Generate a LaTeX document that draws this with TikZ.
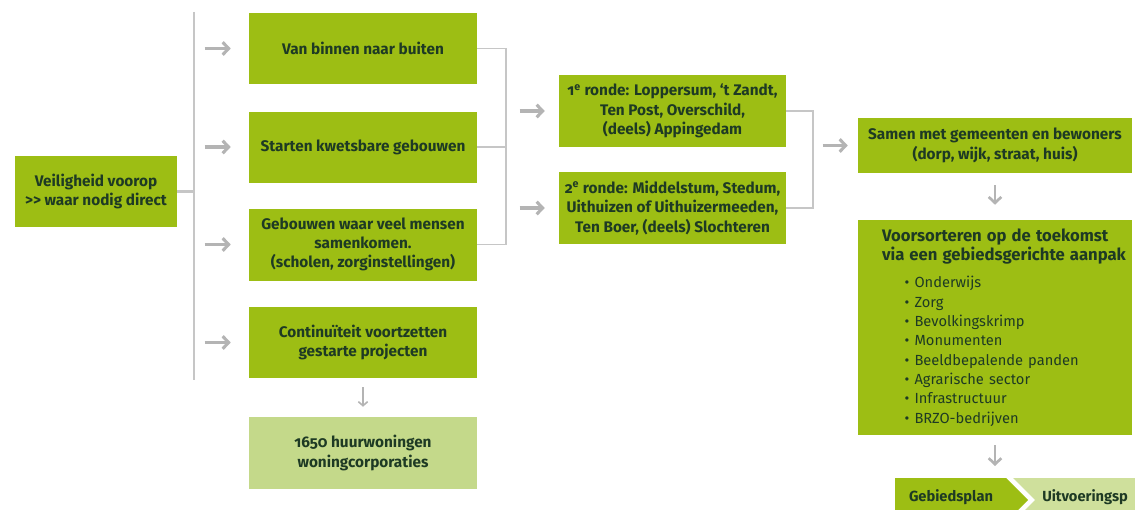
\documentclass[tikz,border=0pt]{standalone}
\usepackage{fontspec}
\setmainfont{Fira Sans}[Numbers=OldStyle]
\usetikzlibrary{arrows.meta}
\definecolor{gdark}{HTML}{9DBE14}
\definecolor{glight}{HTML}{C4D98A}
\definecolor{gchev}{HTML}{CFE09C}
\definecolor{gtext}{HTML}{1E3A24}
\definecolor{lgray}{HTML}{C6C6C6}
\definecolor{agray}{HTML}{B4B4B4}
\begin{document}
\begin{tikzpicture}[x=0.75pt,y=-0.75pt,
  box/.style={rectangle, fill=gdark, text=gtext, font=\bfseries\fontsize{11.5}{14.5}\selectfont, align=center, inner sep=2pt},
  lbox/.style={box, fill=glight},
  arr/.style={draw=agray, line width=2.3pt, -{Straight Barb[length=4.5pt,width=9.5pt]}},
  darr/.style={draw=agray, line width=1.2pt, -{Straight Barb[length=3pt,width=7pt]}},
  darrb/.style={draw=agray, line width=2pt, -{Straight Barb[length=4.5pt,width=9.5pt]}},
  brk/.style={draw=lgray, line width=1.1pt},
  vline/.style={draw=lgray, line width=1.8pt},
  ctext/.style={text=gtext, font=\bfseries\fontsize{11}{14.5}\selectfont, inner sep=0pt}]
\useasboundingbox (0,0) rectangle (1135,510);
\clip (0,0) rectangle (1135,510);

% left box
\node[box, minimum width=121.5pt, minimum height=53.25pt] (veil) at (96,191.5) {Veiligheid voorop\\>{}> waar nodig direct};

% column 2
\node[box, minimum width=171pt, minimum height=53.25pt] (b1) at (363,48.5) {Van binnen naar buiten};
\node[box, minimum width=171pt, minimum height=53.25pt] (b2) at (363,147) {Starten kwetsbare gebouwen};
\node[box, minimum width=171pt, minimum height=54pt] (b3) at (363,244.5) {Gebouwen waar veel mensen\\samenkomen.\\(scholen, zorginstellingen)};
\node[box, minimum width=171pt, minimum height=53.25pt] (b4) at (363,342.5) {Continuïteit voortzetten\\gestarte projecten};
\node[lbox, minimum width=171pt, minimum height=54pt] (b5) at (363,453) {1650 huurwoningen\\woningcorporaties};

% column 3
\node[box, minimum width=170.25pt, minimum height=54pt] (r1) at (672.5,111) {1\textsuperscript{e} ronde: Loppersum, ‘t Zandt,\\Ten Post, Overschild,\\(deels) Appingedam};
\node[box, minimum width=170.25pt, minimum height=54pt] (r2) at (672.5,208) {2\textsuperscript{e} ronde: Middelstum, Stedum,\\Uithuizen of Uithuizermeeden,\\Ten Boer, (deels) Slochteren};

% column 4
\node[box, minimum width=205.5pt, minimum height=41.25pt] (s1) at (995,145.5) {Samen met gemeenten en bewoners\\(dorp, wijk, straat, huis)};
\node[box, minimum width=205.5pt, minimum height=161.25pt, text width=169.5pt, inner xsep=18pt, align=left] (s2) at (995,327.5) {{\fontsize{12.5}{15}\selectfont \mbox{Voorsorteren op de toekomst}\\\mbox{via een gebiedsgerichte aanpak}}\\[6pt]
\mdseries\fontsize{11}{14.5}\selectfont
\hspace*{17pt}\textbullet~Onderwijs\\
\hspace*{17pt}\textbullet~Zorg\\
\hspace*{17pt}\textbullet~Bevolkingskrimp\\
\hspace*{17pt}\textbullet~Monumenten\\
\hspace*{17pt}\textbullet~Beeldbepalende panden\\
\hspace*{17pt}\textbullet~Agrarische sector\\
\hspace*{17pt}\textbullet~Infrastructuur\\
\hspace*{17pt}\textbullet~BRZO-bedrijven};

% bottom chevrons
\fill[gchev] (1013,478) -- (1140,478) -- (1140,522) -- (1013,522) -- (1035,500) -- cycle;
\fill[gdark] (895,478) -- (1006,478) -- (1028,500) -- (1006,522) -- (895,522) -- cycle;
\node[ctext] (gp) at (951,497) {Gebiedsplan};
\node[ctext, anchor=west] (up) at (1042,497) {Uitvoeringsp};
\coordinate (gtop) at (995,466);

% connectors
\coordinate (vt) at (194,12);
\coordinate (vb) at (194,380);
\draw[vline] (vt) -- (vb);
\draw[vline] (veil.east) -- (veil.east -| vt);

\coordinate (bx) at (506,0);
\draw[brk] (b1.east) -- (b1.east -| bx) -- (b3.east -| bx) -- (b3.east);
\draw[brk] (b2.east) -- (b2.east -| bx);

\coordinate (rx) at (813,0);
\draw[brk] (r1.east) -| (rx |- r2.east) -- (r2.east);

\foreach \n in {b1,b2,b3,b4}
  \draw[arr] ([xshift=-33pt]\n.west) -- ([xshift=-13.5pt]\n.west);
\foreach \n in {r1,r2}
  \draw[arr] ([xshift=-29.25pt]\n.west) -- ([xshift=-10.5pt]\n.west);
\draw[arr] ([xshift=-26.25pt]s1.west) -- ([xshift=-7.5pt]s1.west);

\draw[darr] ([yshift=-6.75pt]b4.south) -- ([yshift=7.5pt]b5.north);
\draw[darrb] ([yshift=-9pt]s1.south) -- ([yshift=11.25pt]s2.north);
\draw[darrb] ([yshift=-7.5pt]s2.south) -- (gtop);
\end{tikzpicture}
\end{document}
